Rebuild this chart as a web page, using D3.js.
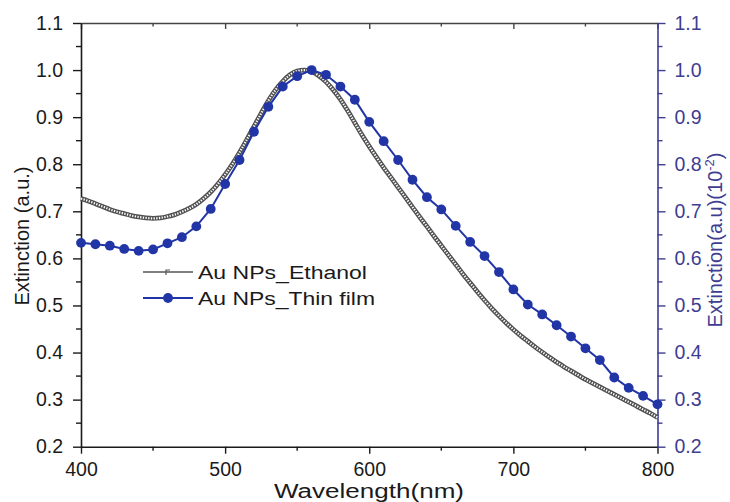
<!DOCTYPE html>
<html><head><meta charset="utf-8">
<script src="https://cdn.jsdelivr.net/npm/d3@7"></script>
<style>body{margin:0;background:#fff}svg{display:block;font-family:"Liberation Sans",Arial,sans-serif}</style>
</head><body><svg id="c" width="730" height="502"></svg>
<script>
const wavelengthEthanol = d3.range(400, 801, 5);
const ethanolValues = [0.727,0.722,0.716,0.710,0.704,0.699,0.695,0.691,0.688,0.686,0.685,0.686,0.689,0.693,0.699,0.706,0.715,0.727,0.741,0.758,0.778,0.800,0.825,0.852,0.880,0.908,0.935,0.958,0.976,0.990,0.998,1.000,0.997,0.988,0.975,0.958,0.938,0.914,0.888,0.862,0.838,0.815,0.793,0.772,0.751,0.730,0.709,0.688,0.668,0.647,0.627,0.607,0.587,0.567,0.548,0.529,0.511,0.494,0.478,0.463,0.449,0.436,0.424,0.412,0.401,0.390,0.380,0.370,0.361,0.352,0.343,0.335,0.327,0.319,0.311,0.303,0.295,0.287,0.279,0.271,0.262];
const wavelengthFilm = d3.range(400, 801, 10);
const filmValues = [0.633,0.630,0.627,0.620,0.616,0.619,0.632,0.645,0.668,0.705,0.758,0.809,0.869,0.922,0.965,0.987,1.000,0.990,0.965,0.937,0.890,0.849,0.809,0.767,0.730,0.704,0.669,0.635,0.605,0.571,0.534,0.502,0.481,0.458,0.434,0.409,0.384,0.347,0.325,0.308,0.290];
const xTicks = [400,500,600,700,800];
const yTicks = [0.2,0.3,0.4,0.5,0.6,0.7,0.8,0.9,1.0,1.1];
const seriesNames = ["Au NPs_Ethanol","Au NPs_Thin film"];

const svg = d3.select("#c");
const L=81, R=657.5, T=23, B=446.7;
const x = d3.scaleLinear().domain([400,800]).range([L,R]);
const y = d3.scaleLinear().domain([0.2,1.1]).range([B,T]);
const yR = d3.scaleLinear().domain([0.2,1.1]).range([B,T]);
const blue = "#2235a6", axisBlue = "#3d3d92", ink = "#1a1a1a";

const fmt = d3.format(".1f");
const minorY = d3.range(0.25,1.1,0.1);
const minorX = [450,550,650,750];

function styleAxis(g,col){g.select(".domain").attr("stroke",col).attr("stroke-width",1.6);g.selectAll(".tick line").attr("stroke",col).attr("stroke-width",1.4);g.selectAll("text").attr("fill",col).attr("font-size",19.5).attr("font-family","Liberation Sans, Arial, sans-serif");}

// bottom
const gB = svg.append("g").attr("transform",`translate(0,${B})`).call(d3.axisBottom(x).tickValues(xTicks).tickSize(7).tickSizeOuter(0).tickPadding(8));
styleAxis(gB,ink);
gB.selectAll(".mt").data(minorX).join("line").attr("x1",d=>x(d)).attr("x2",d=>x(d)).attr("y1",0).attr("y2",4).attr("stroke",ink).attr("stroke-width",1.4);
// top
const gT = svg.append("g").attr("transform",`translate(0,${T})`).call(d3.axisTop(x).tickValues(xTicks).tickSize(-6).tickSizeOuter(0).tickFormat(""));
styleAxis(gT,"#444");
gT.selectAll(".mt").data(minorX).join("line").attr("x1",d=>x(d)).attr("x2",d=>x(d)).attr("y1",0).attr("y2",3.5).attr("stroke","#444").attr("stroke-width",1.4);
// left
const gL = svg.append("g").attr("transform",`translate(${L},0)`).call(d3.axisLeft(y).tickValues(yTicks).tickFormat(fmt).tickSize(8).tickSizeOuter(0).tickPadding(10));
styleAxis(gL,ink);
gL.selectAll(".mt").data(minorY).join("line").attr("y1",d=>y(d)).attr("y2",d=>y(d)).attr("x1",0).attr("x2",-5).attr("stroke",ink).attr("stroke-width",1.4);
// right
const gR = svg.append("g").attr("transform",`translate(${R},0)`).call(d3.axisRight(yR).tickValues(yTicks).tickFormat(fmt).tickSize(8).tickSizeOuter(0).tickPadding(9));
styleAxis(gR,axisBlue);
gR.selectAll(".mt").data(minorY).join("line").attr("y1",d=>yR(d)).attr("y2",d=>yR(d)).attr("x1",0).attr("x2",5).attr("stroke",axisBlue).attr("stroke-width",1.4);

// titles
svg.append("text").attr("x",369).attr("y",498).attr("text-anchor","middle").attr("font-size",20).attr("fill",ink).attr("textLength",190).attr("lengthAdjust","spacingAndGlyphs").text("Wavelength(nm)");
svg.append("text").attr("transform","translate(29,236) rotate(-90)").attr("text-anchor","middle").attr("font-size",20).attr("fill",ink).text("Extinction (a.u.)");
const rt = svg.append("text").attr("transform","translate(722,240) rotate(-90)").attr("text-anchor","middle").attr("font-size",20).attr("fill",axisBlue);
rt.append("tspan").text("Extinction(a.u)(10");
rt.append("tspan").attr("font-size",13).attr("dy",-8).text("-2");
rt.append("tspan").attr("dy",8).text(")");

// ethanol series
const ethData = wavelengthEthanol.map((w,i)=>[w,ethanolValues[i]]);
const lineE = d3.line().x(d=>x(d[0])).y(d=>y(d[1])).curve(d3.curveMonotoneX);
svg.append("path").attr("d",lineE(ethData)).attr("fill","none").attr("stroke","#505050").attr("stroke-width",4.8);
svg.append("path").attr("d",lineE(ethData)).attr("fill","none").attr("stroke","#fff").attr("stroke-width",2.2).attr("stroke-dasharray","1.3,1.4");

// thin film series
const filmData = wavelengthFilm.map((w,i)=>[w,filmValues[i]]);
svg.append("path").attr("d",d3.line().x(d=>x(d[0])).y(d=>yR(d[1]))(filmData)).attr("fill","none").attr("stroke",blue).attr("stroke-width",2);
svg.selectAll(".pt").data(filmData).join("circle").attr("cx",d=>x(d[0])).attr("cy",d=>yR(d[1])).attr("r",4.9).attr("fill",blue);

// legend
const lg = svg.append("g");
lg.append("line").attr("x1",143).attr("x2",193).attr("y1",272).attr("y2",272).attr("stroke","#555").attr("stroke-width",1.3);
lg.append("path").attr("d","M166,275 L166,270 L170,270").attr("fill","none").attr("stroke","#555").attr("stroke-width",1.2);
lg.append("text").attr("x",198).attr("y",278.5).attr("font-size",18).attr("fill",ink).attr("textLength",169).attr("lengthAdjust","spacingAndGlyphs").text(seriesNames[0]);
lg.append("line").attr("x1",143).attr("x2",193).attr("y1",298).attr("y2",298).attr("stroke",blue).attr("stroke-width",2);
lg.append("circle").attr("cx",168).attr("cy",298).attr("r",4.9).attr("fill",blue);
lg.append("text").attr("x",198).attr("y",304.5).attr("font-size",18).attr("fill",ink).attr("textLength",177).attr("lengthAdjust","spacingAndGlyphs").text(seriesNames[1]);
</script></body></html>
